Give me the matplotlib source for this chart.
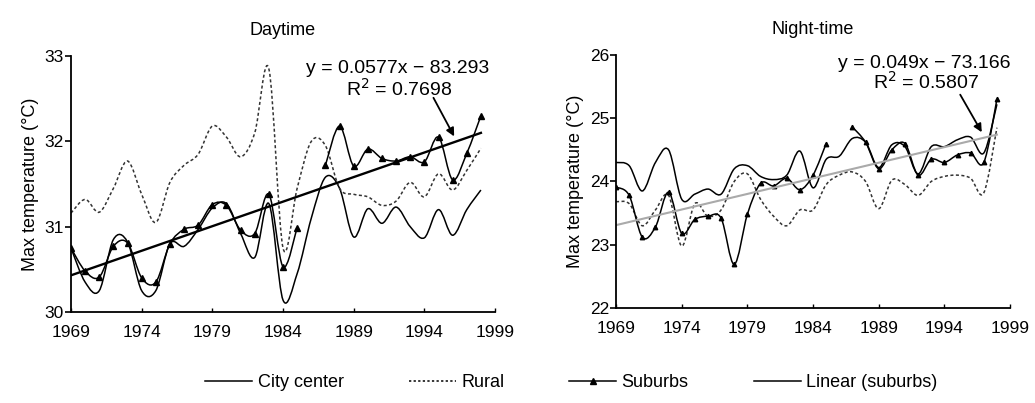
import numpy as np
import matplotlib
matplotlib.use("Agg")
import matplotlib.pyplot as plt
from matplotlib.path import Path
from matplotlib.patches import PathPatch
from matplotlib.lines import Line2D

plt.rcParams['font.family'] = ['Liberation Sans', 'DejaVu Sans']

years = list(range(1969, 1999))
nan = float('nan')

# ---------------- Daytime ----------------
day_city = [30.75, 30.35, 30.25, 30.85, 30.82, 30.25, 30.25, 30.80, 30.77, 30.97,
            31.22, 31.27, 30.92, 30.64, 31.27, 30.14, 30.45, 31.10, 31.58, 31.45,
            30.88, 31.21, 31.04, 31.23, 31.00, 30.87, 31.20, 30.90, 31.20, 31.43]
day_rural = [31.16, 31.32, 31.17, 31.45, 31.77, 31.38, 31.05, 31.52, 31.72, 31.85,
             32.18, 32.05, 31.82, 32.10, 32.85, 30.75, 31.45, 32.00, 31.95, 31.45,
             31.38, 31.35, 31.25, 31.30, 31.52, 31.35, 31.62, 31.43, 31.66, 31.92]
day_suburbs = [30.75, 30.48, 30.41, 30.77, 30.81, 30.40, 30.35, 30.80, 30.97, 31.02,
               31.26, 31.25, 30.96, 30.92, 31.38, 30.53, 30.99, nan, 31.72, 32.18,
               31.71, 31.91, 31.80, 31.77, 31.82, 31.76, 32.05, 31.55, 31.86, 32.30]
day_trend_years = [1969, 1998]
day_trend = [30.43, 32.10]
day_eq = "y = 0.0577x \u2212 83.293"
day_r2 = "R$^2$ = 0.7698"

# ---------------- Night-time ----------------
night_city = [24.30, 24.25, 23.85, 24.30, 24.50, 23.72, 23.80, 23.88, 23.80, 24.20,
              24.25, 24.08, 24.03, 24.10, 24.48, 23.90, 24.35, 24.40, 24.68, 24.62,
              24.22, 24.58, 24.55, 24.12, 24.55, 24.55, 24.66, 24.70, 24.45, 25.22]
night_rural = [23.68, 23.65, 23.30, 23.55, 23.78, 22.98, 23.65, 23.45, 23.55, 24.00,
               24.12, 23.72, 23.45, 23.30, 23.55, 23.55, 23.95, 24.10, 24.15, 24.00,
               23.57, 24.02, 23.95, 23.78, 24.00, 24.08, 24.10, 24.05, 23.82, 24.85]
night_suburbs = [23.91, 23.78, 23.12, 23.28, 23.83, 23.18, 23.40, 23.45, 23.42, 22.69,
                 23.48, 23.97, 23.93, 24.05, 23.87, 24.10, 24.60, nan, 24.86, 24.62,
                 24.20, 24.50, 24.60, 24.10, 24.35, 24.30, 24.42, 24.45, 24.30, 25.30]
night_trend_years = [1969, 1998]
night_trend = [23.31, 24.74]
night_eq = "y = 0.049x \u2212 73.166"
night_r2 = "R$^2$ = 0.5807"

xticks = [1969, 1974, 1979, 1984, 1989, 1994, 1999]
xticklabels = ["1969", "1974", "1979", "1984", "1989", "1994", "1999"]
day_yticks = [30, 31, 32, 33]
night_yticks = [22, 23, 24, 25, 26]
ylabel = "Max temperature (\u00b0C)"
legend_labels = ["City center", "Rural", "Suburbs", "Linear (suburbs)"]


def smooth_line(ax, x, y, **kw):
    x = np.asarray(x, float)
    y = np.asarray(y, float)
    idx = np.where(~np.isnan(y))[0]
    segs = np.split(idx, np.where(np.diff(idx) != 1)[0] + 1)
    for s in segs:
        if len(s) < 2:
            continue
        px, py = x[s], y[s]
        n = len(px)
        verts = [(px[0], py[0])]
        codes = [Path.MOVETO]
        for i in range(n - 1):
            i0 = max(i - 1, 0)
            i3 = min(i + 2, n - 1)
            c1 = (px[i] + (px[i + 1] - px[i0]) / 6, py[i] + (py[i + 1] - py[i0]) / 6)
            c2 = (px[i + 1] - (px[i3] - px[i]) / 6, py[i + 1] - (py[i3] - py[i]) / 6)
            verts += [c1, c2, (px[i + 1], py[i + 1])]
            codes += [Path.CURVE4] * 3
        ax.add_patch(PathPatch(Path(verts, codes), fill=False, **kw))


fig = plt.figure(figsize=(10.35, 4.03), dpi=100)
ax1 = fig.add_axes([0.0686, 0.2258, 0.4097, 0.635])
ax2 = fig.add_axes([0.5952, 0.2357, 0.3807, 0.628])

rural_ls = (0, (2.0, 1.6))


def style(ax, ylim, yticks, title):
    ax.set_xlim(1969, 1999)
    ax.set_ylim(*ylim)
    ax.set_xticks(xticks)
    ax.set_xticklabels(xticklabels)
    ax.set_yticks(yticks)
    for s in ['top', 'right']:
        ax.spines[s].set_visible(False)
    for s in ['left', 'bottom']:
        ax.spines[s].set_linewidth(1.3)
    ax.tick_params(axis='y', direction='out', length=4, width=1.2, labelsize=12.5, pad=1)
    ax.tick_params(axis='x', direction='in', length=3, width=1.0, labelsize=12.5, pad=9)
    ax.set_ylabel(ylabel, fontsize=13, labelpad=4)
    ax.set_title(title, fontsize=13, pad=15)


# Daytime
smooth_line(ax1, years, day_city, color='black', lw=1.1)
smooth_line(ax1, years, day_rural, color='#333333', lw=1.1, linestyle=rural_ls)
smooth_line(ax1, years, day_suburbs, color='black', lw=1.1)
ax1.plot(years, day_suburbs, linestyle='none', marker='^', ms=4.5, color='black')
ax1.plot(day_trend_years, day_trend, color='black', lw=1.7)
style(ax1, (30, 33), day_yticks, "Daytime")
ax1.text(1992.1, 32.86, day_eq, ha='center', va='center', fontsize=14)
ax1.text(1992.2, 32.62, day_r2, ha='center', va='center', fontsize=14)
ax1.annotate("", xy=(1996.2, 32.03), xytext=(1994.55, 32.54),
             arrowprops=dict(arrowstyle='-|>', color='black', lw=1.3, mutation_scale=12))

# Night-time
smooth_line(ax2, years, night_city, color='black', lw=1.1)
smooth_line(ax2, years, night_rural, color='#333333', lw=1.1, linestyle=rural_ls)
smooth_line(ax2, years, night_suburbs, color='black', lw=1.1)
ax2.plot(years, night_suburbs, linestyle='none', marker='^', ms=3.2, color='black')
ax2.plot(night_trend_years, night_trend, color='#aaaaaa', lw=1.5)
style(ax2, (22, 26), night_yticks, "Night-time")
ax2.text(1992.5, 25.86, night_eq, ha='center', va='center', fontsize=14)
ax2.text(1992.6, 25.57, night_r2, ha='center', va='center', fontsize=14)
ax2.annotate("", xy=(1996.95, 24.74), xytext=(1995.1, 25.41),
             arrowprops=dict(arrowstyle='-|>', color='black', lw=1.3, mutation_scale=12))

handles = [
    Line2D([], [], color='black', lw=1.1),
    Line2D([], [], color='black', lw=1.1, linestyle=(0, (1.5, 1.5))),
    Line2D([], [], color='black', lw=1.1, marker='^', ms=4.5),
    Line2D([], [], color='black', lw=1.1),
]
fig.legend(handles, legend_labels, loc='center', bbox_to_anchor=(0.552, 0.05), ncol=4,
           frameon=False, fontsize=13, handlelength=2.6, columnspacing=3.6,
           handletextpad=0.3)

fig.savefig("out.png", dpi=100)
